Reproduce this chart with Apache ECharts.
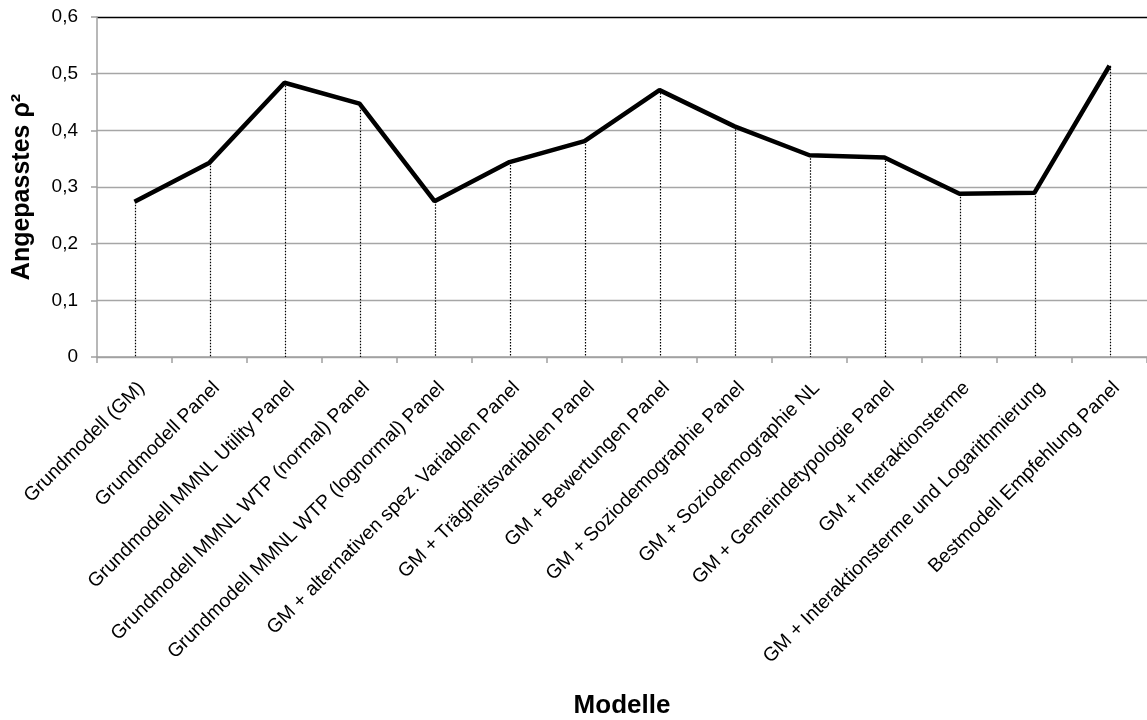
<!DOCTYPE html>
<html>
<head>
<meta charset="utf-8">
<script src="https://cdn.jsdelivr.net/npm/echarts@6/dist/echarts.min.js"></script>
<style>
html,body{margin:0;padding:0;background:#fff;}
#c{width:1147px;height:720px;}
</style>
</head>
<body>
<div id="c"></div>
<script>
const categories = [
  'Grundmodell (GM)',
  'Grundmodell Panel',
  'Grundmodell MMNL Utility Panel',
  'Grundmodell MMNL WTP (normal) Panel',
  'Grundmodell MMNL WTP (lognormal) Panel',
  'GM + alternativen spez. Variablen Panel',
  'GM + Trägheitsvariablen Panel',
  'GM + Bewertungen Panel',
  'GM + Soziodemographie Panel',
  'GM + Soziodemographie NL',
  'GM + Gemeindetypologie Panel',
  'GM + Interaktionsterme',
  'GM + Interaktionsterme und Logarithmierung',
  'Bestmodell Empfehlung Panel'
];
const values = [0.274, 0.343, 0.484, 0.447, 0.275, 0.344, 0.381, 0.471, 0.407, 0.356, 0.352, 0.288, 0.290, 0.514];
const yMin = 0, yMax = 0.6, yStep = 0.1;
const xTitle = 'Modelle';
const yTitle = 'Angepasstes ρ²';

const FONT = "'Liberation Sans', Arial, sans-serif";
const chart = echarts.init(document.getElementById('c'), null, {renderer: 'canvas'});
chart.setOption({
  animation: false,
  backgroundColor: '#fff',
  grid: {left: 97, top: 17, width: 1057, height: 340.5},
  xAxis: {
    type: 'category',
    data: categories,
    boundaryGap: true,
    name: xTitle,
    nameLocation: 'middle',
    nameGap: 336,
    nameTextStyle: {fontFamily: FONT, fontWeight: 'bold', fontSize: 26, color: '#000'},
    axisLine: {lineStyle: {color: '#a0a0a0', width: 1.5}},
    axisTick: {show: true, length: 6, lineStyle: {color: '#a0a0a0', width: 1.5}},
    axisLabel: {
      interval: 0, rotate: 45, margin: 21, align: 'right', verticalAlign: 'top',
      fontFamily: FONT, fontSize: 19.5, color: '#000'
    },
    splitLine: {show: false}
  },
  yAxis: {
    type: 'value',
    min: yMin, max: yMax, interval: yStep,
    name: yTitle,
    nameLocation: 'middle',
    nameGap: 62,
    nameTextStyle: {fontFamily: FONT, fontWeight: 'bold', fontSize: 25, color: '#000'},
    axisLine: {show: true, lineStyle: {color: '#a0a0a0', width: 1.5}},
    axisTick: {show: true, length: 6, lineStyle: {color: '#a0a0a0', width: 1.5}},
    axisLabel: {
      margin: 19, fontFamily: FONT, fontSize: 19, color: '#000',
      formatter: v => v === 0 ? '0' : v.toFixed(1).replace('.', ',')
    },
    splitLine: {show: true, lineStyle: {color: ['#a6a6a6','#a6a6a6','#a6a6a6','#a6a6a6','#a6a6a6','#a6a6a6','#000'], width: 1.3}}
  },
  series: [
    {
      type: 'custom',
      z: 1,
      data: values.map((v, i) => [i, v]),
      encode: {x: 0, y: 1},
      renderItem: function (params, api) {
        const top = api.coord([api.value(0), api.value(1)]);
        const bot = api.coord([api.value(0), 0]);
        return {
          type: 'line',
          shape: {x1: Math.round(top[0]) + 0.5, y1: top[1], x2: Math.round(bot[0]) + 0.5, y2: bot[1]},
          style: {stroke: '#000', lineWidth: 1.2, lineDash: [1.5, 1.5]}
        };
      }
    },
    {
      type: 'line',
      z: 3,
      data: values,
      showSymbol: false,
      symbol: 'none',
      lineStyle: {color: '#000', width: 4.5}
    }
  ]
});
</script>
</body>
</html>
